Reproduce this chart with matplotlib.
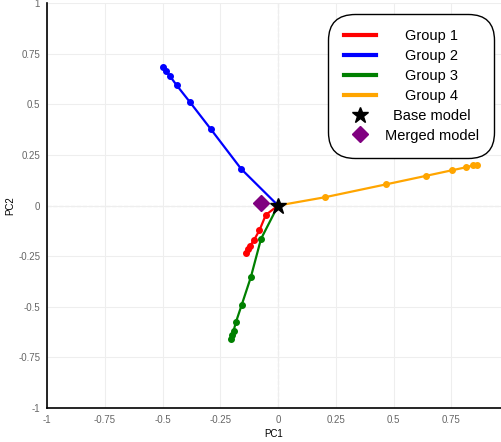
import numpy as np
import matplotlib.pyplot as plt
from matplotlib import rcParams

rcParams['font.family'] = ['Liberation Sans', 'DejaVu Sans']

# trajectories in PC space (each ends at the base model)
g1_x = [-0.140, -0.131, -0.121, -0.104, -0.081, -0.053, 0.0]
g1_y = [-0.235, -0.217, -0.199, -0.170, -0.123, -0.046, 0.0]
g2_x = [-0.497, -0.486, -0.470, -0.439, -0.381, -0.291, -0.160, 0.0]
g2_y = [0.683, 0.667, 0.642, 0.594, 0.510, 0.377, 0.181, 0.0]
g3_x = [-0.205, -0.200, -0.193, -0.182, -0.157, -0.118, -0.074, 0.0]
g3_y = [-0.658, -0.642, -0.620, -0.574, -0.489, -0.354, -0.165, 0.0]
g4_x = [0.0, 0.203, 0.465, 0.642, 0.752, 0.814, 0.843, 0.860]
g4_y = [0.0, 0.041, 0.104, 0.147, 0.174, 0.189, 0.198, 0.202]
base = (0.0, 0.0)
merged = (-0.075, 0.011)

ticks = [-1, -0.75, -0.5, -0.25, 0, 0.25, 0.5, 0.75, 1]
tick_labels = ['-1', '-0.75', '-0.5', '-0.25', '0', '0.25', '0.5', '0.75', '1']

fig = plt.figure(figsize=(5.01, 4.42), dpi=100)
ax = fig.add_axes([0.094, 0.077, 0.906, 0.916])

groups = [(g1_x, g1_y, 'red', 'Group 1'), (g2_x, g2_y, 'blue', 'Group 2'),
          (g3_x, g3_y, 'green', 'Group 3'), (g4_x, g4_y, 'orange', 'Group 4')]
handles = []
for gx, gy, c, lab in groups:
    ax.plot(gx, gy, color=c, lw=1.6, zorder=3)
    # dots on every point except the shared base-model point
    px = [x for x, y in zip(gx, gy) if (x, y) != base]
    py = [y for x, y in zip(gx, gy) if (x, y) != base]
    ax.plot(px, py, 'o', color=c, ms=4, zorder=3)
    h, = ax.plot([], [], color=c, lw=3, label=lab)
    handles.append(h)

hb, = ax.plot(*base, marker='*', color='black', ms=12, ls='none', zorder=5, label='Base model')
hm, = ax.plot(*merged, marker='D', color='purple', ms=8, ls='none', zorder=4, label='Merged model')
handles += [hb, hm]

ax.axhline(0, color='#c0c0c0', ls='--', lw=0.8, zorder=1)
ax.axvline(0, color='#c0c0c0', ls='--', lw=0.8, zorder=1)

ax.set_xlim(-1, 0.965)
ax.set_ylim(-1, 1)
ax.set_xticks(ticks[:-1])
ax.set_xticklabels(tick_labels[:-1])
ax.set_yticks(ticks)
ax.set_yticklabels(tick_labels)
ax.grid(True, color='#eeeeee', lw=0.8, zorder=0)
ax.tick_params(length=0, labelsize=7, colors='#666666', pad=5)
for s in ['top', 'right']:
    ax.spines[s].set_visible(False)
for s in ['left', 'bottom']:
    ax.spines[s].set_linewidth(1.2)
ax.set_xlabel('PC1', fontsize=7, labelpad=3)
ax.set_ylabel('PC2', fontsize=7, labelpad=2)

leg = ax.legend(handles=handles, loc='upper right', bbox_to_anchor=(0.991, 0.98),
                fontsize=10.5, handlelength=2.2, framealpha=1, fancybox=True,
                edgecolor='black', borderpad=0.75, labelspacing=0.4, handletextpad=0.6)
leg.get_frame().set_linewidth(1.0)
leg.get_frame().set_boxstyle('round,pad=0.3,rounding_size=1.8')

# centre the legend labels in their column
fig.canvas.draw()
r = fig.canvas.get_renderer()
widths = [t.get_window_extent(r).width for t in leg.get_texts()]
wmax = max(widths)
for t, w in zip(leg.get_texts(), widths):
    t.set_x((wmax - w) / 2)

fig.savefig('out.png', dpi=100)
